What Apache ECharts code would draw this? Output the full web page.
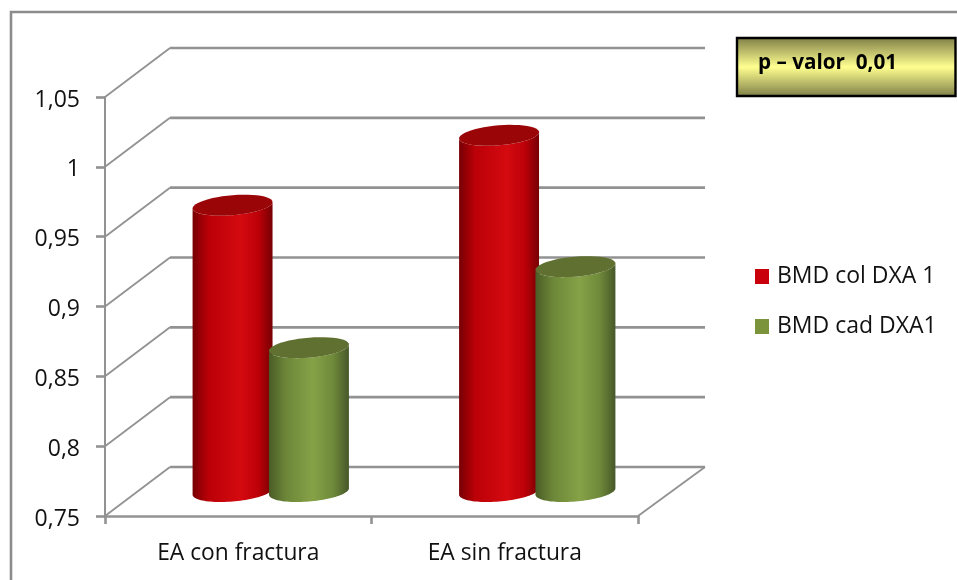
<!DOCTYPE html>
<html>
<head>
<meta charset="utf-8">
<title>BMD DXA</title>
<style>html,body{margin:0;padding:0;background:#fff}#chart{width:957px;height:580px}</style>
<script src="https://cdn.jsdelivr.net/npm/echarts@6/dist/echarts.min.js"></script>
</head>
<body>
<div id="chart"></div>
<script>
// Bone mineral density by group
const categories = ['EA con fractura', 'EA sin fractura'];
const colValues = [0.955, 1.005];
const cadValues = [0.853, 0.911];
const yTicks = [0.75, 0.8, 0.85, 0.9, 0.95, 1, 1.05];
const pValueText = 'p – valor  0,01';

// Pretend-3D projection: how far the back wall sits from the front plane
const DEPTH_X = 65, DEPTH_Y = -49;
const FONT = 'Open Sans';
const GRID_COLOR = '#929292';

const RED = {
  top: '#9a0508',
  body: [[0, '#760004'], [0.2, '#bb0007'], [0.6, '#d40a10'], [0.82, '#bd0008'], [1, '#760004']]
};
const GREEN = {
  top: '#5f7030',
  body: [[0, '#4a5c26'], [0.22, '#6d8739'], [0.55, '#86a247'], [0.8, '#6f8a3a'], [1, '#47582a']]
};

function ellipsePoints(cx, cy, rx, ry, shear, from, to) {
  const pts = [];
  const n = 48;
  for (let i = 0; i <= n; i++) {
    const t = from + (to - from) * i / n;
    pts.push([cx + rx * Math.cos(t), cy + ry * Math.sin(t) - shear * Math.cos(t)]);
  }
  return pts;
}

// One cylinder per data item, placed half way into the floor depth
function cylinderRenderer(side, look) {
  return function (params, api) {
    const cat = api.value(0);
    const val = api.value(1);
    const band = api.size([1, 0])[0];
    const rx = band * 0.15;
    const ry = 10;
    const shear = 3.2;
    const cx = api.coord([cat, val])[0] + DEPTH_X / 2 + side * band * 0.1433;
    const topY = api.coord([cat, val])[1] + DEPTH_Y / 2;
    const baseY = api.coord([cat, yTicks[0]])[1] + DEPTH_Y / 2;
    const lower = ellipsePoints(cx, baseY, rx, ry, shear, 0, Math.PI);
    const upper = ellipsePoints(cx, topY, rx, ry, shear, Math.PI, 0);
    return {
      type: 'group',
      children: [
        {
          type: 'polygon',
          shape: { points: lower.concat(upper) },
          style: {
            fill: {
              type: 'linear', x: 0, y: 0, x2: 1, y2: 0,
              colorStops: look.body.map(s => ({ offset: s[0], color: s[1] }))
            }
          }
        },
        {
          type: 'polygon',
          shape: { points: ellipsePoints(cx, topY, rx, ry, shear, 0, Math.PI * 2) },
          style: { fill: look.top }
        }
      ]
    };
  };
}

// Wall and floor lines: front edge -> back wall -> across
function wallRenderer(params, api) {
  const v = api.value(0);
  const lastCat = categories.length - 1;
  const band = api.size([1, 0])[0];
  const front = api.coord([0, v]);
  front[0] -= band / 2;
  const backL = [front[0] + DEPTH_X, front[1] + DEPTH_Y];
  const backR = [api.coord([lastCat, v])[0] + band / 2 + DEPTH_X + 2, front[1] + DEPTH_Y];
  const children = [
    { type: 'line', shape: { x1: front[0], y1: front[1], x2: backL[0], y2: backL[1] },
      style: { stroke: GRID_COLOR, lineWidth: 1.8, fill: null } },
    { type: 'line', shape: { x1: backL[0], y1: backL[1], x2: backR[0], y2: backR[1] },
      style: { stroke: GRID_COLOR, lineWidth: 2.6, fill: null } }
  ];
  if (v === yTicks[0]) {
    children.push({ type: 'line', shape: { x1: backR[0], y1: backR[1], x2: backR[0] - DEPTH_X - 2, y2: front[1] },
      style: { stroke: GRID_COLOR, lineWidth: 1.8, fill: null } });
  }
  return { type: 'group', children };
}

const chart = echarts.init(document.getElementById('chart'));
chart.setOption({
  animation: false,
  backgroundColor: '#fff',
  grid: { left: 105, top: 97, width: 533, height: 419 },
  legend: {
    left: 755, top: 265, orient: 'vertical', itemWidth: 14, itemHeight: 15, itemGap: 27, padding: 0,
    icon: 'rect',
    textStyle: { fontFamily: FONT, fontSize: 23, color: '#111', padding: [0, 0, 0, 3] },
    data: ['BMD col DXA 1', 'BMD cad DXA1']
  },
  xAxis: {
    type: 'category',
    data: categories,
    axisLine: { lineStyle: { color: GRID_COLOR, width: 2.6 } },
    axisTick: { show: true, length: 8, alignWithLabel: false, lineStyle: { color: GRID_COLOR, width: 2.6 } },
    axisLabel: { fontFamily: FONT, fontSize: 22.8, color: '#111', margin: 26 }
  },
  yAxis: {
    type: 'value',
    min: 0.75, max: 1.05, interval: 0.05,
    splitLine: { show: false },
    axisLine: { show: true, lineStyle: { color: GRID_COLOR, width: 2 } },
    axisTick: { show: true, length: 9, lineStyle: { color: GRID_COLOR, width: 2.6 } },
    axisLabel: {
      fontFamily: FONT, fontSize: 23, color: '#111', margin: 25,
      verticalAlign: 'top', lineHeight: 6,
      formatter: v => String(+v.toFixed(2)).replace('.', ',')
    }
  },
  series: [
    {
      type: 'custom', name: 'walls', silent: true, z: 1,
      renderItem: wallRenderer,
      encode: { y: 0 },
      data: yTicks.map(v => [v])
    },
    {
      type: 'custom', name: 'BMD col DXA 1', z: 3,
      itemStyle: { color: '#c9000b' },
      renderItem: cylinderRenderer(-1, RED),
      encode: { x: 0, y: 1 },
      data: colValues.map((v, i) => [i, v])
    },
    {
      type: 'custom', name: 'BMD cad DXA1', z: 4,
      itemStyle: { color: '#7b943c' },
      renderItem: cylinderRenderer(1, GREEN),
      encode: { x: 0, y: 1 },
      data: cadValues.map((v, i) => [i, v])
    }
  ],
  graphic: [
    {
      type: 'rect', z: 0, silent: true,
      shape: { x: 11, y: 12, width: 1000, height: 700 },
      style: { fill: 'none', stroke: '#8c8c8c', lineWidth: 2.6 }
    },
    {
      type: 'rect', z: 10, silent: true,
      shape: { x: 737, y: 38, width: 218.5, height: 58 },
      style: {
        stroke: '#000', lineWidth: 2.4,
        fill: {
          type: 'linear', x: 0, y: 0, x2: 0, y2: 1,
          colorStops: [
            { offset: 0, color: '#7c7c46' },
            { offset: 0.5, color: '#ffff90' },
            { offset: 1, color: '#7c7c46' }
          ]
        }
      }
    },
    {
      type: 'text', z: 11, silent: true, x: 758, y: 63,
      style: { text: pValueText, fontFamily: FONT, fontWeight: 'bold', fontSize: 20.7, fill: '#000', verticalAlign: 'middle' }
    }
  ]
});
</script>
</body>
</html>
